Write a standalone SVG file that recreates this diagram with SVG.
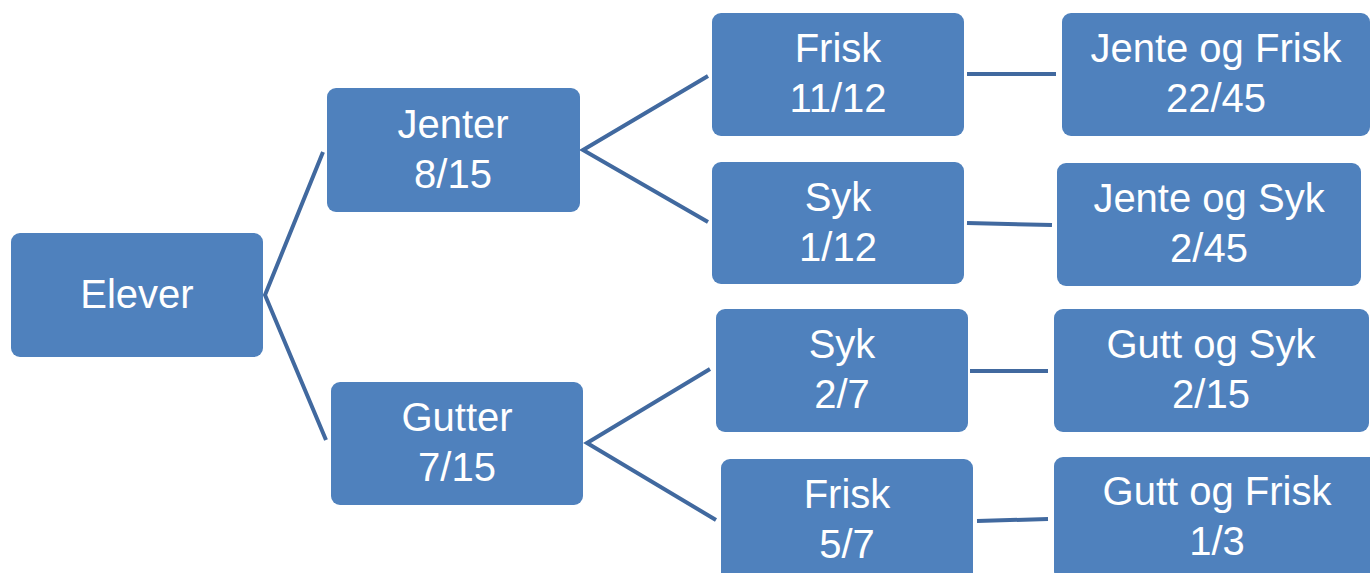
<svg xmlns="http://www.w3.org/2000/svg" width="1370" height="573" viewBox="0 0 1370 573">
  <style>
    .box { fill: #4F81BD; }
    .lbl { font-family: "Liberation Sans", Arial, sans-serif; font-size: 40px; fill: #FFFFFF; text-anchor: middle; }
    .link { stroke: #41699F; stroke-width: 4; fill: none; stroke-linecap: butt; stroke-linejoin: miter; }
  </style>

  <!-- connectors -->
  <g id="connectors">
    <polyline class="link" points="323,152 265,295 326,440"/>
    <polyline class="link" points="708,76 583,150 708,222"/>
    <polyline class="link" points="710,369 587,443 716,520"/>
    <line class="link" x1="967" y1="74" x2="1056" y2="74"/>
    <line class="link" x1="967" y1="223" x2="1052" y2="225"/>
    <line class="link" x1="970" y1="371" x2="1048" y2="371"/>
    <line class="link" x1="977" y1="521" x2="1048" y2="519"/>
  </g>

  <!-- root -->
  <g id="elever">
    <rect class="box" x="11" y="233" width="252" height="124" rx="9"/>
    <text class="lbl" x="137" y="308">Elever</text>
  </g>

  <!-- first level -->
  <g id="jenter">
    <rect class="box" x="327" y="88" width="253" height="124" rx="9"/>
    <text class="lbl" x="453" y="138">Jenter</text>
    <text class="lbl" x="453" y="188">8/15</text>
  </g>
  <g id="gutter">
    <rect class="box" x="331" y="382" width="252" height="123" rx="9"/>
    <text class="lbl" x="457" y="431">Gutter</text>
    <text class="lbl" x="457" y="481">7/15</text>
  </g>

  <!-- second level -->
  <g id="jenter-frisk">
    <rect class="box" x="712" y="13" width="252" height="123" rx="9"/>
    <text class="lbl" x="838" y="62">Frisk</text>
    <text class="lbl" x="838" y="112">11/12</text>
  </g>
  <g id="jenter-syk">
    <rect class="box" x="712" y="162" width="252" height="122" rx="9"/>
    <text class="lbl" x="838" y="211">Syk</text>
    <text class="lbl" x="838" y="261">1/12</text>
  </g>
  <g id="gutter-syk">
    <rect class="box" x="716" y="309" width="252" height="123" rx="9"/>
    <text class="lbl" x="842" y="358">Syk</text>
    <text class="lbl" x="842" y="408">2/7</text>
  </g>
  <g id="gutter-frisk">
    <rect class="box" x="721" y="459" width="252" height="123" rx="9"/>
    <text class="lbl" x="847" y="508">Frisk</text>
    <text class="lbl" x="847" y="558">5/7</text>
  </g>

  <!-- outcomes -->
  <g id="jente-og-frisk">
    <rect class="box" x="1062" y="13" width="308" height="123" rx="9"/>
    <text class="lbl" x="1216" y="62">Jente og Frisk</text>
    <text class="lbl" x="1216" y="112">22/45</text>
  </g>
  <g id="jente-og-syk">
    <rect class="box" x="1057" y="163" width="304" height="123" rx="9"/>
    <text class="lbl" x="1209" y="212">Jente og Syk</text>
    <text class="lbl" x="1209" y="262">2/45</text>
  </g>
  <g id="gutt-og-syk">
    <rect class="box" x="1054" y="309" width="315" height="123" rx="9"/>
    <text class="lbl" x="1211" y="358">Gutt og Syk</text>
    <text class="lbl" x="1211" y="408">2/15</text>
  </g>
  <g id="gutt-og-frisk">
    <rect class="box" x="1054" y="457" width="326" height="123" rx="9"/>
    <text class="lbl" x="1217" y="505">Gutt og Frisk</text>
    <text class="lbl" x="1217" y="555">1/3</text>
  </g>
</svg>
